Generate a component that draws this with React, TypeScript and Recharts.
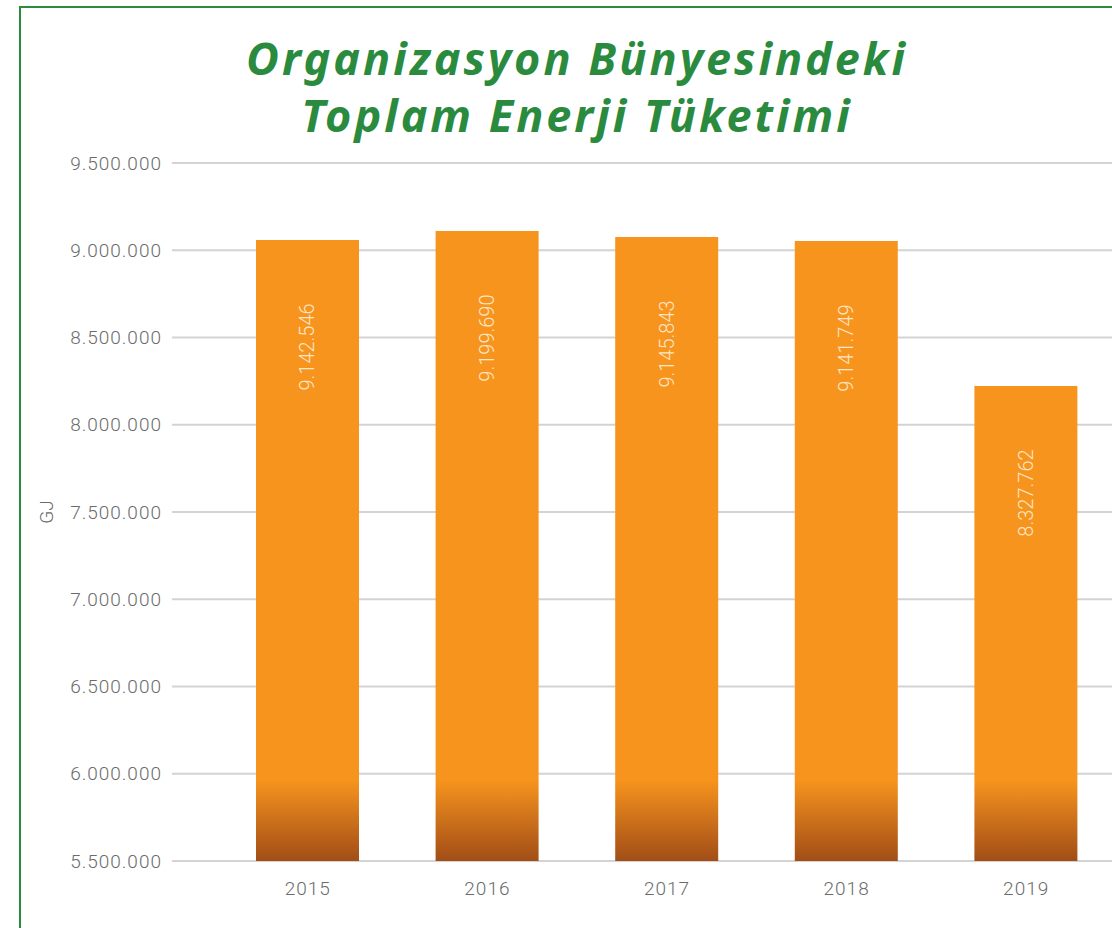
import React from 'react';
import { BarChart, Bar, XAxis, YAxis, CartesianGrid, LabelList } from 'recharts';

const years = ['2015', '2016', '2017', '2018', '2019'];
const energyValues = [9059000, 9110000, 9076000, 9053000, 8222000];
const valueLabels = ['9.142.546', '9.199.690', '9.145.843', '9.141.749', '8.327.762'];
const yTicks = [5500000, 6000000, 6500000, 7000000, 7500000, 8000000, 8500000, 9000000, 9500000];
const titleLines = ['Organizasyon Bünyesindeki', 'Toplam Enerji Tüketimi'];
const yAxisTitle = 'GJ';

const data = years.map((year, i) => ({ year, value: energyValues[i], label: valueLabels[i] }));

const fmt = (v: number) => String(v).replace(/\B(?=(\d{3})+(?!\d))/g, '.');

const tickFont = 'Roboto, "Open Sans", sans-serif';

const renderValueLabel = (props: any) => {
  const { x, y, width, index } = props;
  const cx = Number(x) + Number(width) / 2;
  const cy = Number(y) + 107;
  return (
    <text
      x={cx}
      y={cy}
      transform={`rotate(-90 ${cx} ${cy})`}
      textAnchor="middle"
      dominantBaseline="central"
      fill="#fde6c6"
      fontSize={20}
      fontWeight={300}
      fontFamily={tickFont}
    >
      {valueLabels[index]}
    </text>
  );
};

export default function App() {
  return (
    <div style={{ position: 'fixed', left: 0, top: 0, width: 1112, height: 928, overflow: 'hidden', background: '#fff' }}>
      <div
        style={{
          position: 'absolute',
          left: 19,
          top: 6,
          width: 1300,
          height: 1100,
          border: '2px solid #2e8b3e',
          boxSizing: 'border-box',
        }}
      />
      <svg width={1112} height={160} style={{ position: 'absolute', left: 0, top: 0 }}>
        {titleLines.map((t, i) => (
          <text
            key={i}
            x={577}
            y={75 + i * 57}
            textAnchor="middle"
            fill="#2a8a3e"
            fontSize={45}
            fontWeight={700}
            fontStyle="italic"
            fontFamily='"Noto Sans", sans-serif'
            letterSpacing={3}
          >
            {t}
          </text>
        ))}
      </svg>
      <div style={{ position: 'absolute', left: 0, top: 0 }}>
        <BarChart width={1116} height={928} data={data} margin={{ top: 163, right: 0, bottom: 37, left: 0 }}>
          <defs>
            <linearGradient id="barGrad" gradientUnits="userSpaceOnUse" x1="0" y1="780" x2="0" y2="861">
              <stop offset="0" stopColor="#f7941e" />
              <stop offset="1" stopColor="#a14d17" />
            </linearGradient>
          </defs>
          <CartesianGrid vertical={false} stroke="#d3d3d3" strokeWidth={2} />
          <XAxis
            dataKey="year"
            axisLine={false}
            tickLine={false}
            padding={{ left: 46, right: 0 }}
            tickMargin={15}
            tick={{ fill: '#6b6b6b', fontSize: 19, fontWeight: 300, fontFamily: tickFont, letterSpacing: 1 }}
          />
          <YAxis
            domain={[5500000, 9500000]}
            ticks={yTicks}
            tickFormatter={fmt}
            width={172}
            axisLine={false}
            tickLine={false}
            tickMargin={4}
            tick={{ fill: '#6b6b6b', fontSize: 19, fontWeight: 300, fontFamily: tickFont, letterSpacing: 1 }}
            label={{
              content: (p: any) => {
                const vb = p.viewBox || {};
                const cx = vb.x + 46;
                const cy = vb.y + vb.height / 2;
                return (
                  <text
                    x={cx}
                    y={cy}
                    transform={`rotate(-90 ${cx} ${cy})`}
                    textAnchor="middle"
                    dominantBaseline="central"
                    fill="#6b6b6b"
                    fontSize={19}
                    fontWeight={300}
                    fontFamily={tickFont}
                  >
                    {yAxisTitle}
                  </text>
                );
              },
            }}
          />
          <Bar dataKey="value" fill="url(#barGrad)" barSize={103} isAnimationActive={false}>
            <LabelList dataKey="label" content={renderValueLabel} />
          </Bar>
        </BarChart>
      </div>
    </div>
  );
}
